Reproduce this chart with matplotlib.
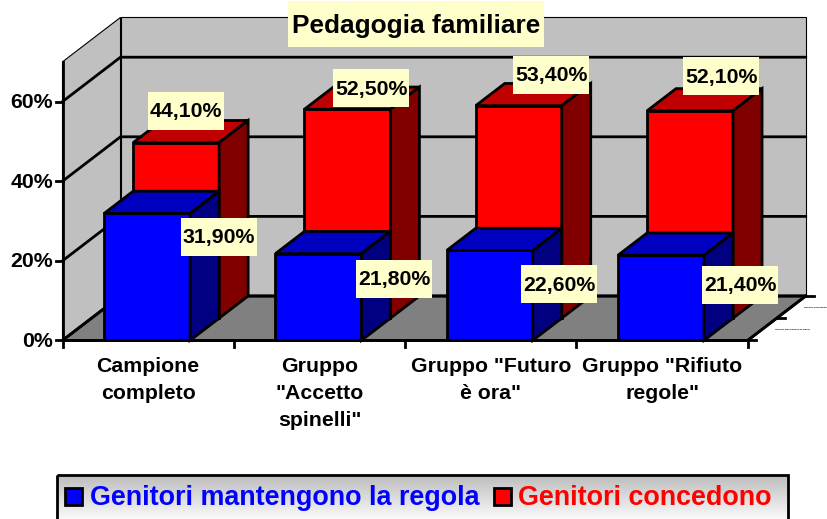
import numpy as np
import matplotlib
matplotlib.use("Agg")
import matplotlib.pyplot as plt
from matplotlib.patches import Polygon, Rectangle

plt.rcParams['font.family'] = ['Liberation Sans', 'DejaVu Sans']

# data
categories = ['Campione\ncompleto', 'Gruppo\n"Accetto\nspinelli"', 'Gruppo "Futuro\nè ora"', 'Gruppo "Rifiuto\nregole"']
mantengono = [31.9, 21.8, 22.6, 21.4]
concedono = [44.1, 52.5, 53.4, 52.1]
y_ticks = [0, 20, 40, 60]
series_names = ['Genitori mantengono la regola', 'Genitori concedono']
title = 'Pedagogia familiare'

# label box centres in pixels (the 3D chart places them by hand)
blue_label_pos = [(219, 237), (394, 279), (559, 284), (740, 285)]
red_label_pos = [(186, 111), (371, 88), (551, 75), (721, 76)]

# oblique projection: slot position, percent, depth row -> pixels
X0, Y0 = 62.5, 340.4
SLOT_W = 171.3
PCT = 3.98
DX, DY = 29, 22.2
Y_MAX = 70
LW = 2.0
FS = 15.3


def proj(pos, pct, depth=0):
    return (X0 + SLOT_W * pos + DX * depth, Y0 - PCT * pct - DY * depth)


def poly(ax, pts, color, lw=LW, z=2):
    ax.add_patch(Polygon(pts, closed=True, facecolor=color, edgecolor='black',
                         linewidth=lw, joinstyle='miter', zorder=z))


def bar3d(ax, pos, width, val, depth, front, top, side, z):
    a, b = pos, pos + width
    poly(ax, [proj(a, 0, depth), proj(b, 0, depth), proj(b, val, depth), proj(a, val, depth)], front, z=z)
    poly(ax, [proj(a, val, depth), proj(b, val, depth), proj(b, val, depth + 1), proj(a, val, depth + 1)], top, z=z)
    poly(ax, [proj(b, 0, depth), proj(b, 0, depth + 1), proj(b, val, depth + 1), proj(b, val, depth)], side, z=z)


def label(ax, xy, txt, fs=FS, pad_w=76, pad_h=38, dy=1):
    x, y = xy
    ax.add_patch(Rectangle((x - pad_w / 2, y - pad_h / 2), pad_w, pad_h, facecolor='#ffffcc',
                           edgecolor='none', zorder=10))
    ax.text(x, y + dy, txt, ha='center', va='center', fontsize=fs, fontweight='bold', color='black', zorder=11)


fig = plt.figure(figsize=(8.27, 5.19), dpi=100)
ax = fig.add_axes([0, 0, 1, 1])

# walls and floor
n = len(categories)
poly(ax, [proj(0, 0), proj(0, Y_MAX), proj(0, Y_MAX, 2), proj(0, 0, 2)], '#c0c0c0', lw=0.8, z=1)
poly(ax, [proj(0, 0, 2), proj(0, Y_MAX, 2), proj(n, Y_MAX, 2), proj(n, 0, 2)], '#c0c0c0', lw=0.8, z=1)
poly(ax, [proj(0, 0), proj(0, 0, 2), proj(n, 0, 2), proj(n, 0)], '#808080', lw=LW, z=1)

# gridlines
for t in y_ticks:
    p = [proj(0, t), proj(0, t, 2), proj(n, t, 2)]
    ax.plot(*zip(*p), color='black', lw=LW, zorder=1.5, solid_joinstyle='miter')

# bars
for i in range(n):
    bar3d(ax, i + 0.243, 0.502, concedono[i], 1, '#ff0000', '#c00000', '#800000', 3 + i * 0.1)
for i in range(n):
    bar3d(ax, i + 0.243, 0.502, mantengono[i], 0, '#0000ff', '#0000c0', '#000080', 4 + i * 0.1)

# axes lines and ticks
ax.plot(*zip(proj(0, 0), proj(0, Y_MAX)), color='black', lw=LW, zorder=5)
ax.plot(*zip(proj(0, 0), proj(n, 0)), color='black', lw=LW, zorder=5)
ax.plot(*zip(proj(n, 0), proj(n, 0, 2)), color='black', lw=LW, zorder=5)
for t in y_ticks:
    x, y = proj(0, t)
    ax.plot([x - 7, x], [y, y], color='black', lw=LW, zorder=5)
    ax.text(53, y + 1, f'{t}%', ha='right', va='center', fontsize=FS, fontweight='bold')
for i in range(n + 1):
    x, y = proj(i, 0)
    ax.plot([x, x], [y, y + 7], color='black', lw=LW, zorder=5)
for d in range(3):
    x, y = proj(n, 0, d)
    ax.plot([x, x + 8], [y, y], color='black', lw=LW, zorder=5)
for i, c in enumerate(categories):
    x, _ = proj(i + 0.5, 0)
    for j, line in enumerate(c.split('\n')):
        ax.text(x, 366 + 27.5 * j, line, ha='center', va='center', fontsize=FS, fontweight='bold')

# tiny depth axis labels
ax.text(815, 307, series_names[1], ha='center', va='center', fontsize=1.7, fontweight='bold')
ax.text(792, 329, series_names[0], ha='center', va='center', fontsize=1.7, fontweight='bold')

# data labels and title
for xy, v in zip(blue_label_pos, mantengono):
    label(ax, xy, f'{v:.2f}%'.replace('.', ','))
for xy, v in zip(red_label_pos, concedono):
    label(ax, xy, f'{v:.2f}%'.replace('.', ','))
label(ax, (416, 24), title, fs=18.9, pad_w=256, pad_h=46, dy=2)

# legend
grad = np.linspace(0, 1, 64).reshape(-1, 1)
ax.imshow(grad, extent=(57, 788, 521, 475), cmap='gray', vmin=-3.0, vmax=1.05, aspect='auto', zorder=6)
ax.add_patch(Rectangle((57, 475), 731, 50, facecolor='none', edgecolor='black', linewidth=LW, zorder=7))
for x0, col, name, tx in [(65, '#0000ff', series_names[0], 90), (494, '#ff0000', series_names[1], 518)]:
    ax.add_patch(Rectangle((x0, 488), 17, 17, facecolor=col, edgecolor='black', linewidth=LW, zorder=8))
    ax.text(tx, 498, name, ha='left', va='center', fontsize=19.4, fontweight='bold', color=col, zorder=8)

ax.set_xlim(0, 827)
ax.set_ylim(519, 0)
ax.axis('off')
fig.savefig('out.png', dpi=100)
